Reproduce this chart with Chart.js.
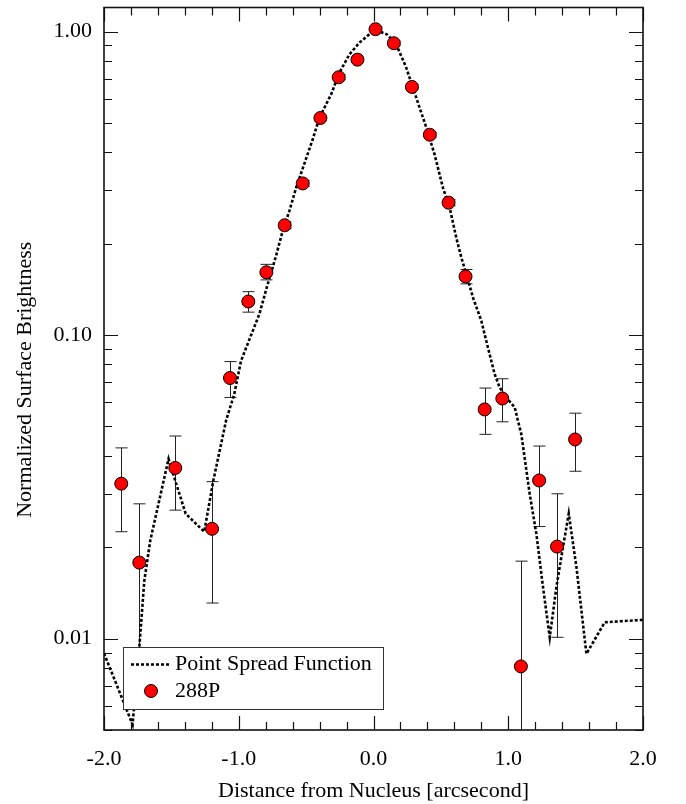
<!DOCTYPE html>
<html>
<head>
<meta charset="utf-8">
<script src="https://cdn.jsdelivr.net/npm/chart.js@4/dist/chart.umd.min.js"></script>
<style>
  html, body { margin: 0; padding: 0; background: #fff; }
  #wrap { width: 686px; height: 804px; }
</style>
</head>
<body>
<div id="wrap"><canvas id="c" width="686" height="804"></canvas></div>
<script>
// ---- data ----
const obsX = [-1.872, -1.738, -1.471, -1.198, -1.065, -0.929, -0.795, -0.659, -0.525, -0.394, -0.258, -0.119,
              0.015, 0.151, 0.285, 0.418, 0.557, 0.683, 0.825, 0.956, 1.094, 1.229, 1.362, 1.496];
const obsY = [0.0324, 0.0178, 0.0365, 0.0230, 0.0722, 0.129, 0.161, 0.230, 0.316, 0.519, 0.707, 0.808,
              1.018, 0.915, 0.657, 0.457, 0.273, 0.156, 0.0569, 0.0618, 0.0081, 0.0332, 0.0201, 0.0453];
const obsHigh = [0.0425, 0.0278, 0.0465, 0.0329, 0.0818, 0.139, 0.171, 0.236, 0.323, 0.530, 0.720, 0.822,
                 1.035, 0.930, 0.668, 0.465, 0.279, 0.1645, 0.0669, 0.0718, 0.0180, 0.0431, 0.0300, 0.0553];
const obsLow  = [0.0225, 0.0078, 0.0265, 0.0131, 0.0623, 0.119, 0.152, 0.224, 0.309, 0.508, 0.694, 0.794,
                 1.001, 0.900, 0.646, 0.449, 0.267, 0.1475, 0.0471, 0.0518, 0.001, 0.0234, 0.0101, 0.0356];

const psfX = [-2.0, -1.788, -1.738, -1.701, -1.657, -1.521, -1.479, -1.394, -1.256, -1.189, -1.094, -1.033,
              -0.983, -0.847, -0.785, -0.723, -0.674, -0.624, -0.574, -0.451, -0.401, -0.314, -0.253, -0.178,
              -0.104, -0.017, 0.045, 0.099, 0.168, 0.243, 0.292, 0.342, 0.392, 0.453, 0.515, 0.565, 0.614,
              0.652, 0.689, 0.738, 0.800, 0.849, 0.899, 0.936, 0.986, 1.048, 1.072, 1.097, 1.159, 1.209,
              1.258, 1.308, 1.357, 1.406, 1.449, 1.506, 1.580, 1.716, 2.0];
const psfY = [0.00895, 0.00521, 0.00934, 0.0155, 0.0210, 0.0391, 0.0340, 0.0258, 0.0225, 0.0331, 0.0523, 0.0640,
              0.0823, 0.1173, 0.1472, 0.1825, 0.2206, 0.2567, 0.306, 0.4418, 0.5206, 0.6217, 0.7323, 0.8418,
              0.9194, 0.9918, 1.0, 0.9797, 0.9082, 0.7606, 0.6535, 0.5615, 0.4827, 0.394, 0.306, 0.263, 0.2096,
              0.180, 0.1588, 0.1330, 0.1115, 0.0910, 0.0744, 0.0672, 0.0623, 0.0578, 0.0522, 0.0472, 0.0300, 0.0221,
              0.01477, 0.0101, 0.01477, 0.0200, 0.0258, 0.0172, 0.00891, 0.01132, 0.01153];

const xTickValues = [-2, -1, 0, 1, 2];
const xTickLabels = ['-2.0', '-1.0', '0.0', '1.0', '2.0'];
const yTickValues = [0.01, 0.1, 1];
const yTickLabels = ['0.01', '0.10', '1.00'];

const seriesNames = ['Point Spread Function', '288P'];
const xTitle = 'Distance from Nucleus [arcsecond]';
const yTitle = 'Normalized Surface Brightness';

// ---- styling ----
const FONT = 'Liberation Serif, Times New Roman, serif';
const fontSpec = { family: FONT, size: 22 };
const RED = '#ff0000';

const psfData = psfX.map((x, i) => ({ x, y: psfY[i] }));
const obsData = obsX.map((x, i) => ({ x, y: obsY[i] }));

const errorBars = {
  id: 'errorBars',
  beforeDatasetsDraw(chart) {
    const { ctx, chartArea: a, scales: { x, y } } = chart;
    ctx.save();
    ctx.beginPath();
    ctx.rect(a.left, a.top, a.right - a.left, a.bottom - a.top);
    ctx.clip();
    ctx.strokeStyle = '#222';
    ctx.lineWidth = 1;
    obsX.forEach((xv, i) => {
      const px = Math.round(x.getPixelForValue(xv)) + 0.5;
      const pHi = y.getPixelForValue(obsHigh[i]);
      const pLo = y.getPixelForValue(obsLow[i]);
      ctx.beginPath();
      ctx.moveTo(px, pHi); ctx.lineTo(px, pLo);
      ctx.moveTo(px - 6, pHi); ctx.lineTo(px + 6, pHi);
      ctx.moveTo(px - 6, pLo); ctx.lineTo(px + 6, pLo);
      ctx.stroke();
    });
    ctx.restore();
  }
};

const frameTicks = {
  id: 'frameTicks',
  afterDatasetsDraw(chart) {
    const { ctx, chartArea: a, scales: { x, y } } = chart;
    ctx.save();
    ctx.strokeStyle = '#111';
    ctx.lineWidth = 1.2;
    const major = 14, minor = 8;
    ctx.beginPath();
    for (let k = -10; k <= 10; k++) {
      const v = k * 0.2;
      const px = Math.round(x.getPixelForValue(v)) + 0.5;
      const len = (k % 5 === 0) ? major : minor;
      ctx.moveTo(px, a.bottom); ctx.lineTo(px, a.bottom - len);
      ctx.moveTo(px, a.top); ctx.lineTo(px, a.top + len);
    }
    for (let e = -3; e <= 0; e++) {
      for (let m = 1; m <= 9; m++) {
        const v = m * Math.pow(10, e);
        if (v < y.min * 0.999 || v > y.max) continue;
        const py = Math.round(y.getPixelForValue(v)) + 0.5;
        const len = (m === 1) ? major : minor;
        ctx.moveTo(a.left, py); ctx.lineTo(a.left + len, py);
        ctx.moveTo(a.right, py); ctx.lineTo(a.right - len, py);
      }
    }
    ctx.stroke();
    ctx.lineWidth = 1.6;
    ctx.strokeRect(a.left, a.top, a.right - a.left, a.bottom - a.top);
    ctx.restore();
  }
};

const boxLegend = {
  id: 'boxLegend',
  afterDraw(chart) {
    const { ctx, chartArea: a } = chart;
    const bx = a.left + 19, by = a.bottom - 83, bw = 260, bh = 62;
    ctx.save();
    ctx.fillStyle = '#fff';
    ctx.fillRect(bx, by, bw, bh);
    ctx.strokeStyle = '#333';
    ctx.lineWidth = 1;
    ctx.strokeRect(bx + 0.5, by + 0.5, bw, bh);
    ctx.strokeStyle = '#000';
    ctx.lineWidth = 2.5;
    ctx.setLineDash([3, 2]);
    ctx.beginPath();
    ctx.moveTo(bx + 8, by + 17.5); ctx.lineTo(bx + 47, by + 17.5);
    ctx.stroke();
    ctx.setLineDash([]);
    ctx.beginPath();
    ctx.arc(bx + 28, by + 44, 6.5, 0, Math.PI * 2);
    ctx.fillStyle = RED; ctx.fill();
    ctx.lineWidth = 1; ctx.strokeStyle = '#000'; ctx.stroke();
    ctx.fillStyle = '#000';
    ctx.font = '22px ' + FONT;
    ctx.textBaseline = 'middle';
    ctx.textAlign = 'left';
    ctx.fillText(seriesNames[0], bx + 52, by + 17);
    ctx.fillText(seriesNames[1], bx + 52, by + 44);
    ctx.restore();
  }
};

new Chart(document.getElementById('c'), {
  type: 'scatter',
  data: {
    datasets: [
      {
        label: seriesNames[1],
        data: obsData,
        order: 0,
        pointRadius: 6.5,
        pointHoverRadius: 6.5,
        pointBackgroundColor: RED,
        pointBorderColor: '#000',
        pointBorderWidth: 1,
        showLine: false
      },
      {
        label: seriesNames[0],
        data: psfData,
        order: 1,
        showLine: true,
        pointRadius: 0,
        borderColor: '#000',
        borderWidth: 2.6,
        borderDash: [3, 2],
        tension: 0,
        fill: false
      }
    ]
  },
  options: {
    responsive: false,
    animation: false,
    devicePixelRatio: 1,
    layout: { padding: { top: 7, right: 43, left: 0, bottom: 0 } },
    plugins: { legend: { display: false }, tooltip: { enabled: false } },
    scales: {
      x: {
        type: 'linear',
        min: -2, max: 2,
        afterBuildTicks: s => { s.ticks = xTickValues.map(v => ({ value: v })); },
        ticks: { callback: (v, i) => xTickLabels[i], font: fontSpec, color: '#000', padding: 16, maxRotation: 0 },
        grid: { display: false, drawTicks: false },
        border: { display: false },
        title: { display: true, text: xTitle, font: fontSpec, color: '#000', padding: 0 },
        afterFit: s => { s.height = 74; s.paddingLeft = 0; s.paddingRight = 0; }
      },
      y: {
        type: 'logarithmic',
        min: 0.005, max: 1.2,
        afterBuildTicks: s => { s.ticks = yTickValues.map(v => ({ value: v })); },
        ticks: { callback: (v, i) => yTickLabels[i], font: fontSpec, color: '#000', padding: 12 },
        grid: { display: false, drawTicks: false },
        border: { display: false },
        title: { display: true, text: yTitle + '\u00a0\u00a0\u00a0\u00a0', font: fontSpec, color: '#000', padding: { top: 12, bottom: 0 } },
        afterFit: s => { s.width = 104; s.paddingTop = 0; s.paddingBottom = 0; }
      }
    }
  },
  plugins: [errorBars, frameTicks, boxLegend]
});
</script>
</body>
</html>
